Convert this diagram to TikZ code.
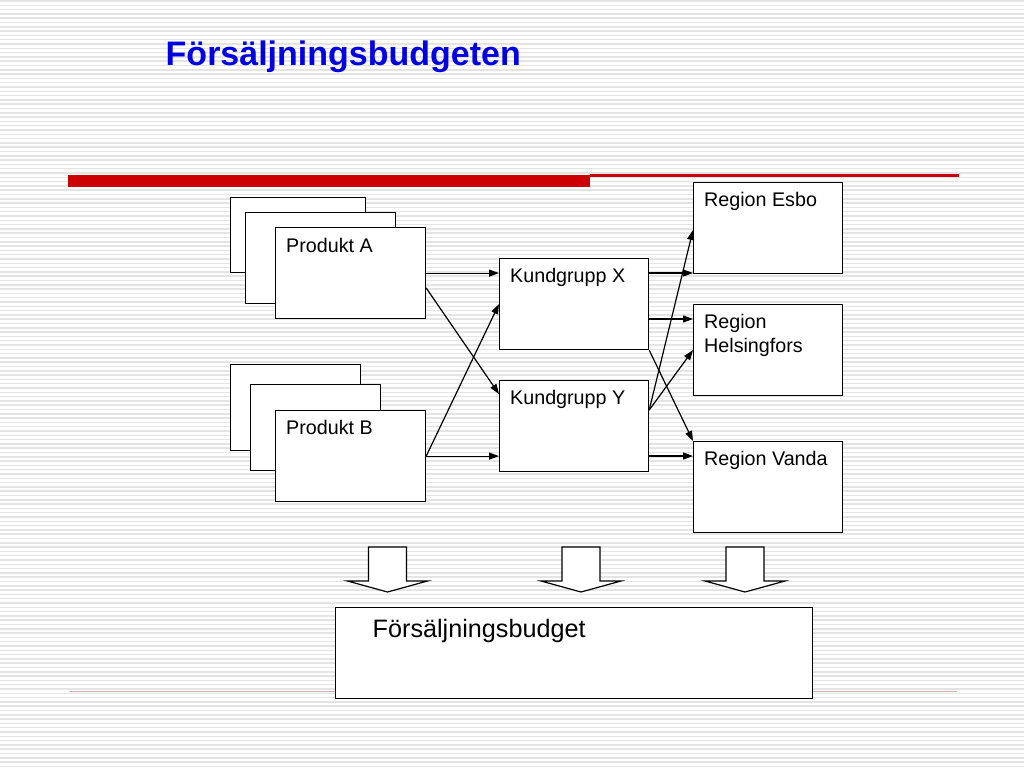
\documentclass[tikz,border=0pt]{standalone}
\usepackage{fontspec}
\setmainfont{Liberation Sans}
\usetikzlibrary{arrows.meta,calc}
\definecolor{titleblue}{RGB}{0,0,225}
\definecolor{barred}{RGB}{204,0,0}
\definecolor{stripecol}{RGB}{228,228,228}
\definecolor{footline}{RGB}{210,175,175}
\begin{document}
\begin{tikzpicture}[x=1pt,y=-1pt,
  box/.style={draw=black,line width=1.2pt,fill=white,inner sep=0pt,anchor=north west,rectangle},
  lbl/.style={inner sep=0pt,anchor=base west,font=\fontsize{19.7}{23.4}\selectfont},
  arr/.style={line width=1.2pt,-{Triangle[length=10pt,width=7pt]}},
  hollow/.pic={\draw[line width=1.2pt,fill=white,line join=miter] (-19,0) -- (-19,34) -- (-40,34) -- (0,45) -- (40,34) -- (19,34) -- (19,0) -- cycle;}
]
\useasboundingbox (0,0) rectangle (1024,768);
\fill[white] (0,0) rectangle (1024,768);
\foreach \i in {0,...,178} \draw[stripecol,line width=1.5pt] (0,\i*4.3+1) -- (1024,\i*4.3+1);

% title
\node[inner sep=0pt,anchor=base west,text=titleblue,font=\fontsize{34}{40}\selectfont\bfseries] (title) at (165.5,65) {Försäljningsbudgeten};

% red rule
\fill[barred] (68,174.5) rectangle (590,187);
\fill[barred] (590,174.3) rectangle (959,176.6);

% footer rule
\fill[footline] (69,690.8) rectangle (957,692.4);

% product stacks
\node[box,minimum width=135pt,minimum height=75pt] (pa3) at (230,197) {};
\node[box,minimum width=150pt,minimum height=91pt] (pa2) at (245,212) {};
\node[box,minimum width=150pt,minimum height=91pt] (pa) at (275,227) {};
\node[box,minimum width=130pt,minimum height=86pt] (pb3) at (230,364) {};
\node[box,minimum width=130pt,minimum height=86pt] (pb2) at (250,384) {};
\node[box,minimum width=150pt,minimum height=91pt] (pb) at (275,410) {};

% customer groups
\node[box,minimum width=149pt,minimum height=91pt] (kx) at (499,258) {};
\node[box,minimum width=149pt,minimum height=91pt] (ky) at (499,380) {};

% regions
\node[box,minimum width=149pt,minimum height=91pt] (esbo) at (693,182) {};
\node[box,minimum width=149pt,minimum height=91pt] (hel) at (693,304) {};
\node[box,minimum width=149pt,minimum height=91pt] (vanda) at (693,441) {};

% budget
\node[box,minimum width=477pt,minimum height=91pt] (budget) at (335,607) {};

% labels
\node[lbl] (lpa) at ($(pa.north west)+(11,25.7)$) {Produkt A};
\node[lbl] (lpb) at ($(pb.north west)+(11,24.2)$) {Produkt B};
\node[lbl] (lkx) at ($(kx.north west)+(11,24.7)$) {Kundgrupp X};
\node[lbl] (lky) at ($(ky.north west)+(11,24.3)$) {Kundgrupp Y};
\node[lbl] (lesbo) at ($(esbo.north west)+(11,24)$) {Region Esbo};
\node[inner sep=0pt,anchor=north west,align=left,font=\fontsize{19.7}{23.4}\selectfont] (lhel) at ($(hel.north west)+(11,10.2)$) {Region\\Helsingfors};
\node[lbl] (lvanda) at ($(vanda.north west)+(11,24)$) {Region Vanda};
\node[inner sep=0pt,anchor=base west,font=\fontsize{25.2}{30}\selectfont] (lbudget) at ($(budget.north west)+(37.5,30.7)$) {Försäljningsbudget};

% connector anchor points
\coordinate (kxa) at ($(kx.north east)+(0,15)$);
\coordinate (kxb) at ($(kx.north east)+(0,61)$);
\coordinate (kya) at ($(ky.north east)+(0,30)$);
\coordinate (kyb) at ($(ky.north east)+(0,76)$);
\coordinate (paa) at ($(pa.north east)+(0,61)$);

% connectors products -> groups
\draw[arr] (pa.east) -- (pa.east -| kx.west);
\draw[arr] (paa) -- ($(ky.north west)+(0,14)$);
\draw[arr] (pb.east) -- ($(kx.north west)+(0,46)$);
\draw[arr] (pb.east) -- (pb.east -| ky.west);

% connectors groups -> regions
\draw[arr] (kxa) -- (kxa -| esbo.west);
\draw[arr] (kxb) -- (kxb -| hel.west);
\draw[arr] (kx.south east) -- (vanda.north west);
\draw[arr] (kya) -- ($(esbo.north west)+(0,48)$);
\draw[arr] (kya) -- (hel.west);
\draw[arr] (kyb) -- (kyb -| vanda.west);

% hollow down arrows
\pic at (387.5,547) {hollow};
\pic at (581,547) {hollow};
\pic at (745,547) {hollow};
\end{tikzpicture}
\end{document}
